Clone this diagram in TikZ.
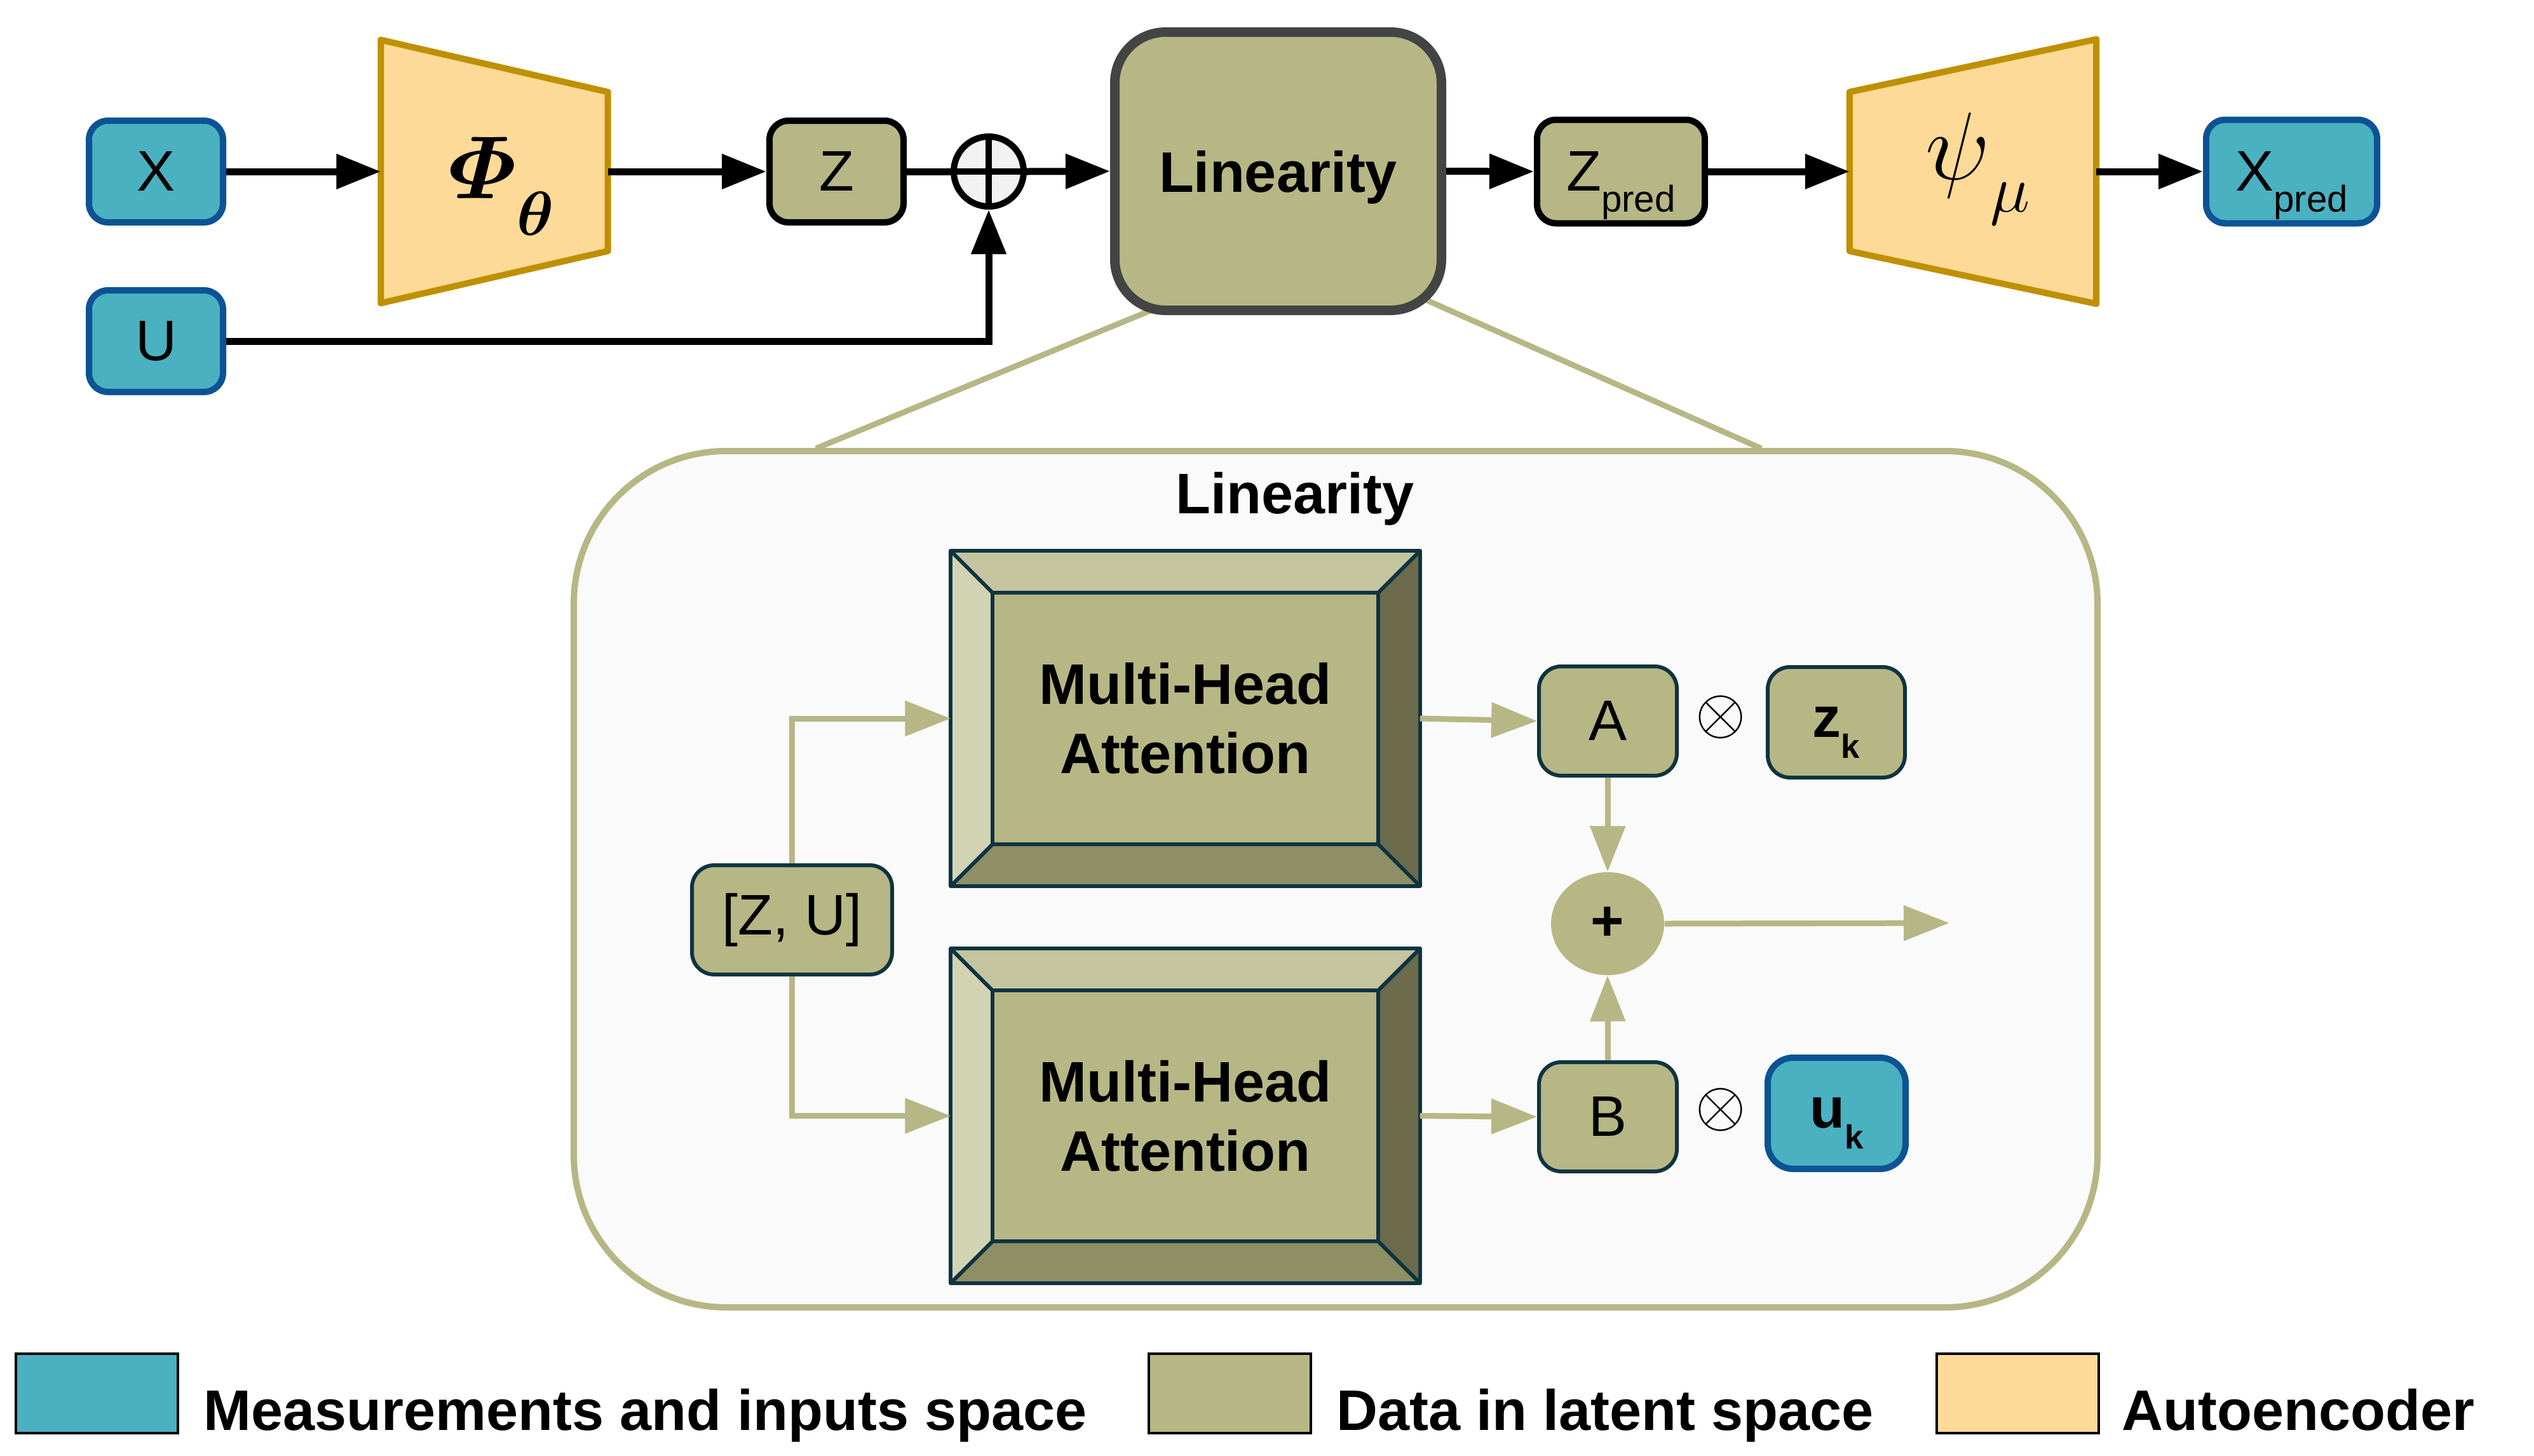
\RequirePackage{fix-cm}
\documentclass[tikz,border=0pt]{standalone}
\usepackage{amsmath}
\usepackage{fontspec}
\setmainfont{Liberation Sans}
\usetikzlibrary{arrows.meta,shapes.geometric,backgrounds,calc}
\definecolor{cyanf}{HTML}{4AB1C1}
\definecolor{blueb}{HTML}{0C5395}
\definecolor{latentc}{HTML}{B7B785}
\definecolor{goldf}{HTML}{FDDA97}
\definecolor{goldb}{HTML}{BF9000}
\definecolor{darkb}{HTML}{444444}
\definecolor{tealb}{HTML}{0E3440}
\definecolor{bvtop}{HTML}{C4C59F}
\definecolor{bvleft}{HTML}{D1D3B3}
\definecolor{bvright}{HTML}{6B6B4C}
\definecolor{bvbot}{HTML}{8F8F66}
\definecolor{panelc}{HTML}{FAFAFA}
\definecolor{oplusc}{HTML}{F2F2F2}
\newcommand{\lab}{\fontsize{25.6}{31}\selectfont}
\newcommand{\mybigf}{\fontsize{40}{48}\selectfont}
\newcommand{\mysmallf}{\fontsize{28}{30}\selectfont}
\newcommand{\mypsif}{\fontsize{43}{50}\selectfont}
\newcommand{\mymuf}{\fontsize{30}{32}\selectfont}
\newcommand{\mysub}[2]{\raisebox{-0.33cm}[0pt][0pt]{\fontsize{#1}{#1}\selectfont #2}}
\newcommand{\bevelbox}[2]{%
  \coordinate (#1-a) at ([shift={(#2,-#2)}]#1.north west);
  \coordinate (#1-b) at ([shift={(-#2,-#2)}]#1.north east);
  \coordinate (#1-c) at ([shift={(-#2,#2)}]#1.south east);
  \coordinate (#1-d) at ([shift={(#2,#2)}]#1.south west);
  \fill[bvtop] (#1.north west) -- (#1.north east) -- (#1-b) -- (#1-a) -- cycle;
  \fill[bvright] (#1.north east) -- (#1.south east) -- (#1-c) -- (#1-b) -- cycle;
  \fill[bvbot] (#1.south east) -- (#1.south west) -- (#1-d) -- (#1-c) -- cycle;
  \fill[bvleft] (#1.south west) -- (#1.north west) -- (#1-a) -- (#1-d) -- cycle;
  \fill[latentc] (#1-a) rectangle (#1-c);
  \draw[bvline] (#1.north west) rectangle (#1.south east);
  \draw[bvline] (#1-a) rectangle (#1-c);
  \draw[bvline] (#1.north west) -- (#1-a) (#1.north east) -- (#1-b)
                (#1.south east) -- (#1-c) (#1.south west) -- (#1-d);
}
\tikzset{
  blbox/.style={rectangle, rounded corners=0.3cm, line width=0.1cm, inner sep=0pt, font=\lab},
  meas/.style={blbox, fill=cyanf, draw=blueb},
  lat/.style={blbox, fill=latentc, draw=black},
  inbox/.style={rectangle, rounded corners=0.35cm, line width=0.06cm, draw=tealb, fill=latentc, font=\lab, inner sep=0pt},
  arr/.style={line width=0.11cm, -{Triangle[length=0.7cm,width=0.53cm]}},
  oarr/.style={draw=latentc, line width=0.09cm, -{Triangle[length=0.72cm,width=0.54cm]}},
  trap/.style={draw=goldb, fill=goldf, line width=0.1cm, line join=round},
  bvline/.style={draw=tealb, line width=0.06cm, line join=round},
  ghost/.style={rectangle, inner sep=0pt},
  legsq/.style={rectangle, draw=black, line width=0.04cm, minimum width=2.55cm, minimum height=1.25cm, inner sep=0pt},
  legtxt/.style={anchor=base west, inner sep=0pt, font=\lab\bfseries}
}
\begin{document}
\begin{tikzpicture}[x=1cm, y=-1cm]
\useasboundingbox (0,0) rectangle (39.88,22.91);

% ---------- top row ----------
\node[meas, minimum width=2.11cm, minimum height=1.60cm] (X) at (2.455,2.70) {X};
\node[meas, minimum width=2.11cm, minimum height=1.60cm] (U) at (2.455,5.37) {U};

\node[ghost, minimum width=3.56cm, minimum height=4.13cm] (phi) at (7.78,2.70) {};
\draw[trap] (phi.north west) -- ([yshift=-0.82cm]phi.north east) -- ([yshift=0.82cm]phi.south east) -- (phi.south west) -- cycle;
\node[anchor=base west, inner sep=0pt, font=\mybigf] (phil) at (7.05,3.12) {$\boldsymbol{\varPhi}$\raisebox{-0.58cm}{\mysmallf$\boldsymbol{\theta}$}};

\node[lat, minimum width=2.11cm, minimum height=1.60cm] (Z) at (13.165,2.70) {Z};

\node[circle, draw=black, fill=oplusc, line width=0.1cm, minimum size=1.1cm, inner sep=0pt] (op) at (15.56,2.70) {};
\draw[line width=0.1cm] (op.north) -- (op.south) (op.west) -- (op.east);

\node[rectangle, rounded corners=0.8cm, draw=darkb, fill=latentc, line width=0.15cm, minimum width=5.14cm, minimum height=4.38cm, text depth=0pt, font=\lab\bfseries] (lin) at (20.115,2.695) {Linearity};

\node[lat, minimum width=2.64cm, minimum height=1.63cm] (Zp) at (25.51,2.70) {Z\mysub{16.6}{pred}};

\node[ghost, minimum width=3.87cm, minimum height=4.15cm] (psi) at (31.05,2.70) {};
\draw[trap] ([yshift=-0.83cm]psi.north west) -- (psi.north east) -- (psi.south east) -- ([yshift=0.83cm]psi.south west) -- cycle;
\node[anchor=base west, inner sep=0pt, font=\mypsif] (psil) at (30.30,2.82) {$\psi$\raisebox{-0.51cm}{\mymuf$\mu$}};

\node[meas, minimum width=2.69cm, minimum height=1.63cm] (Xp) at (36.065,2.70) {X\mysub{16.6}{pred}};

\draw[arr] (X.east) -- (phi.west);
\draw[arr] (phi.east) -- (Z.west);
\draw[line width=0.11cm] (Z.east) -- (op.west);
\draw[arr] (op.east) -- (lin.west);
\draw[arr] (U.east) -| (op.south);
\draw[arr] (lin.east) -- (Zp.west);
\draw[arr] (Zp.east) -- (psi.west);
\draw[arr] (psi.east) -- (Xp.west);

% ---------- zoom panel ----------
\node[rectangle, rounded corners=2.4cm, draw=latentc, fill=panelc, line width=0.1cm, minimum width=23.98cm, minimum height=13.48cm] (panel) at (21.02,13.84) {};
\coordinate (zl0) at (18.20,4.85);
\coordinate (zl1) at (12.84,7.06);
\coordinate (zr0) at (22.35,4.68);
\coordinate (zr1) at (27.72,7.06);
\begin{scope}[on background layer]
  \draw[latentc, line width=0.09cm] (zl0) -- (zl1);
  \draw[latentc, line width=0.09cm] (zr0) -- (zr1);
\end{scope}

\node[anchor=base, inner sep=0pt, font=\lab\bfseries] (ptitle) at (20.38,8.08) {Linearity};

\node[ghost, minimum width=7.37cm, minimum height=5.26cm] (mha1) at (18.655,11.31) {};
\bevelbox{mha1}{0.66cm}
\node[font=\lab\bfseries, align=center] (mha1t) at (mha1) {Multi-Head\\Attention};

\node[ghost, minimum width=7.37cm, minimum height=5.25cm] (mha2) at (18.655,17.565) {};
\bevelbox{mha2}{0.66cm}
\node[font=\lab\bfseries, align=center] (mha2t) at (mha2) {Multi-Head\\Attention};

\node[inbox, minimum width=3.15cm, minimum height=1.72cm] (zu) at (12.465,14.48) {[Z, U]};

\node[inbox, minimum width=2.17cm, minimum height=1.72cm] (A) at (25.305,11.35) {A};
\node[inbox, minimum width=2.17cm, minimum height=1.72cm] (B) at (25.305,17.58) {B};
\node[inbox, minimum width=2.16cm, minimum height=1.74cm] (zk) at (28.90,11.37) {\textbf{z}\mysub{15}{\textbf{k}}};
\node[blbox, fill=cyanf, draw=blueb, rounded corners=0.4cm, minimum width=2.17cm, minimum height=1.75cm] (uk) at (28.905,17.525) {\textbf{u}\mysub{15}{\textbf{k}}};

\node[inner sep=0pt, font=\fontsize{29}{30}\selectfont] (ot1) at (27.08,11.29) {$\otimes$};
\node[inner sep=0pt, font=\fontsize{29}{30}\selectfont] (ot2) at (27.08,17.47) {$\otimes$};

\node[ellipse, fill=latentc, minimum width=1.78cm, minimum height=1.62cm, inner sep=0pt, font=\lab\bfseries] (plus) at (25.30,14.54) {+};
\coordinate (outp) at (30.68,14.53);

\draw[oarr] (zu.north) |- (mha1.west);
\draw[oarr] (zu.south) |- (mha2.west);
\draw[oarr] (mha1.east) -- (A.west);
\draw[oarr] (mha2.east) -- (B.west);
\draw[oarr] (A.south) -- (plus.north);
\draw[oarr] (B.north) -- (plus.south);
\draw[oarr] (plus.east) -- (outp);

% ---------- legend ----------
\node[legsq, fill=cyanf] (lg1) at (1.525,21.935) {};
\node[legtxt] (lt1) at (3.20,22.51) {Measurements and inputs space};
\node[legsq, fill=latentc] (lg2) at (19.355,21.935) {};
\node[legtxt] (lt2) at (21.03,22.51) {Data in latent space};
\node[legsq, fill=goldf] (lg3) at (31.75,21.935) {};
\node[legtxt] (lt3) at (33.39,22.51) {Autoencoder};
\end{tikzpicture}
\end{document}
